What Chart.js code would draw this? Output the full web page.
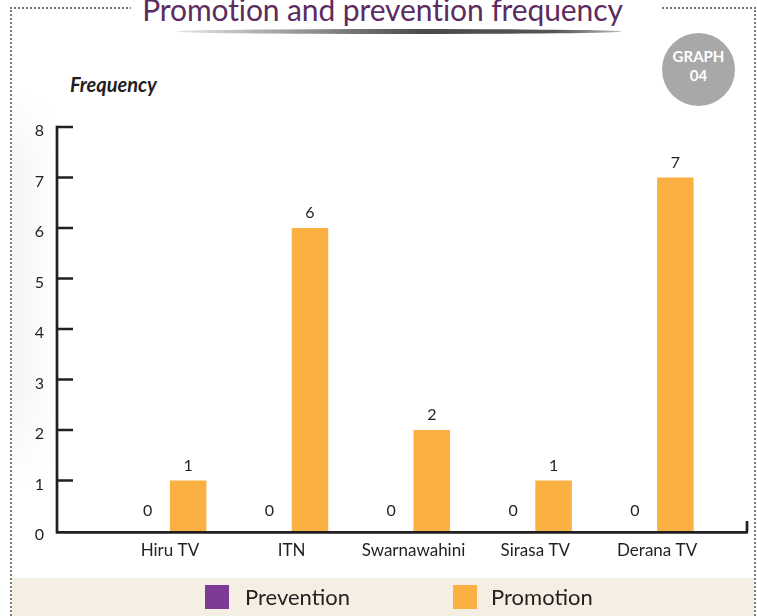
<!DOCTYPE html>
<html>
<head>
<meta charset="utf-8">
<script src="https://cdn.jsdelivr.net/npm/chart.js@4.4.1/dist/chart.umd.min.js"></script>
<style>
  html, body { margin: 0; padding: 0; background: #ffffff; }
  #wrap { position: relative; width: 757px; height: 616px; overflow: hidden; background: #fff; font-family: Lato, "Open Sans", sans-serif; }
  #shade { position: absolute; left: 12px; top: 90px; width: 45px; height: 400px;
    background: linear-gradient(to right, rgba(0,0,0,0.045), rgba(0,0,0,0));
    -webkit-mask-image: linear-gradient(to bottom, transparent, #000 20%, #000 75%, transparent);
    mask-image: linear-gradient(to bottom, transparent, #000 20%, #000 75%, transparent); }
  #border { position: absolute; left: 10px; top: 7px; width: 746px; height: 640px;
    border: 2px dotted #7a7a7a; box-sizing: border-box; }
  #titlebg { position: absolute; left: 131px; top: 0; width: 530px; height: 14px; background: #fff; }
  #title { position: absolute; left: 4px; width: 757px; top: -9px; text-align: center; font-size: 30px; color: #5c2b60; white-space: nowrap; letter-spacing: -0.1px; }
  #swoosh { position: absolute; left: 176px; top: 29px; width: 446px; height: 5px; border-radius: 50%;
    background: linear-gradient(to right, rgba(80,80,80,0.15), #4a4a4a 55%, #555 85%, rgba(80,80,80,0.4)); }
  #badge { position: absolute; left: 662px; top: 33px; width: 73px; height: 73px; border-radius: 50%; background: #a8a8a8;
    color: #fff; font-weight: bold; font-size: 15px; text-align: center; line-height: 19px; box-sizing: border-box; padding-top: 14px; }
  #freq { position: absolute; left: 70px; top: 72px; font-size: 20px; font-weight: bold; font-style: italic; color: #231f20; }
  #legendband { position: absolute; left: 12px; top: 578px; width: 742px; height: 40px; background: #f5eee2; }
  .lg { position: absolute; top: 584px; font-size: 22px; color: #231f20; line-height: 26px; }
  .sw { position: absolute; top: 585px; width: 24px; height: 24px; }
  canvas { position: absolute; left: 0; top: 0; }
</style>
</head>
<body>
<div id="wrap">
  <div id="shade"></div>
  <div id="legendband"></div>
  <div id="border"></div>
  <div id="titlebg"></div>
  <div id="title">Promotion and prevention frequency</div>
  <div id="swoosh"></div>
  <div id="badge">GRAPH<br>04</div>
  <div id="freq">Frequency</div>
  <canvas id="c" width="757" height="616"></canvas>
  <div class="sw" id="sw0" style="left:205px;"></div>
  <div class="lg" id="lg0" style="left:245px;"></div>
  <div class="sw" id="sw1" style="left:453px;"></div>
  <div class="lg" id="lg1" style="left:491px;"></div>
</div>
<script>
const categories = ['Hiru TV', 'ITN', 'Swarnawahini', 'Sirasa TV', 'Derana TV'];
const seriesNames = ['Prevention', 'Promotion'];
const prevention = [0, 0, 0, 0, 0];
const promotion = [1, 6, 2, 1, 7];
const yMin = 0, yMax = 8, yStep = 1;
const colors = ['#7d3b97', '#fab042'];

// HTML legend
seriesNames.forEach((n, i) => {
  document.getElementById('lg' + i).textContent = n;
  document.getElementById('sw' + i).style.background = colors[i];
});

const axisPlugin = {
  id: 'axisLines',
  afterDatasetsDraw(chart) {
    const ctx = chart.ctx;
    const y = chart.scales.y;
    const area = chart.chartArea;
    const axisX = area.left - 52;
    const endX = area.right + 30;
    const y0 = y.getPixelForValue(yMin);
    const yTop = y.getPixelForValue(yMax);
    ctx.save();
    ctx.strokeStyle = '#231f20';
    ctx.lineWidth = 2.7;
    ctx.lineCap = 'butt';
    ctx.beginPath();
    ctx.moveTo(axisX, yTop - 1.3);
    ctx.lineTo(axisX, y0 + 1.3);
    ctx.lineTo(endX, y0 + 1.3);
    ctx.moveTo(endX - 1, y0 + 1.3);
    ctx.lineTo(endX - 1, y0 - 10);
    ctx.stroke();
    ctx.beginPath();
    for (let v = yMin + yStep; v <= yMax; v += yStep) {
      const py = y.getPixelForValue(v);
      ctx.moveTo(axisX, py);
      ctx.lineTo(axisX + 16, py);
    }
    ctx.stroke();
    // value labels
    ctx.fillStyle = '#231f20';
    ctx.font = '16px Lato, "Open Sans", sans-serif';
    ctx.textAlign = 'center';
    ctx.textBaseline = 'bottom';
    chart.data.datasets.forEach((ds, di) => {
      const meta = chart.getDatasetMeta(di);
      meta.data.forEach((el, i) => {
        const off = ds.data[i] === 0 ? 12 : 7;
        ctx.fillText(String(ds.data[i]), el.x - (ds.data[i] === 0 ? 4 : 0), el.y - off);
      });
    });
    ctx.restore();
  }
};

new Chart(document.getElementById('c'), {
  type: 'bar',
  data: {
    labels: categories,
    datasets: [
      { label: seriesNames[0], data: prevention, backgroundColor: colors[0] },
      { label: seriesNames[1], data: promotion, backgroundColor: colors[1] }
    ]
  },
  options: {
    responsive: false,
    animation: false,
    devicePixelRatio: 1,
    layout: { padding: { left: 35, right: 39, top: 127, bottom: 45 } },
    datasets: { bar: { categoryPercentage: 0.6, barPercentage: 1.0 } },
    plugins: { legend: { display: false }, tooltip: { enabled: false }, title: { display: false } },
    scales: {
      x: {
        grid: { display: false, drawTicks: false },
        border: { display: false },
        ticks: { color: '#231f20', font: { family: 'Lato', size: 17 }, padding: 9, maxRotation: 0 },
        afterFit: (s) => { s.height = 40; }
      },
      y: {
        min: yMin, max: yMax,
        grid: { display: false, drawTicks: false },
        border: { display: false },
        ticks: { stepSize: yStep, color: '#231f20', font: { family: 'Lato', size: 16 }, padding: 65, labelOffset: 4 },
        afterFit: (s) => { s.width = 74; }
      }
    }
  },
  plugins: [axisPlugin]
});
</script>
</body>
</html>
